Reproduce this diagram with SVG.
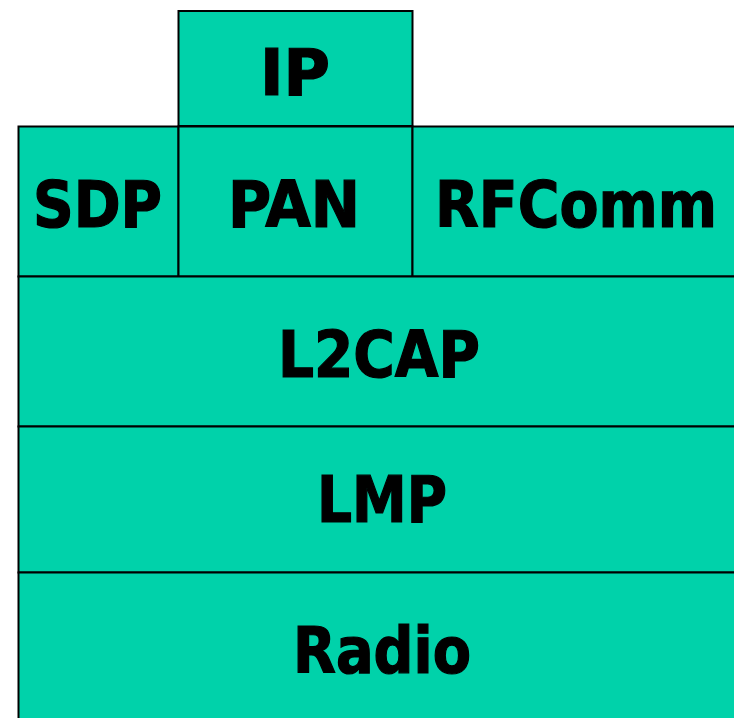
<svg xmlns="http://www.w3.org/2000/svg" width="734" height="718" viewBox="0 0 734 718">
<style>
.box{fill:#00D2AA;stroke:#000;stroke-width:2}
.lbl{font-family:"DejaVu Sans Condensed","DejaVu Sans",sans-serif;font-weight:bold;font-size:64px;fill:#000;stroke:#000;stroke-width:1.2;text-anchor:middle}
</style>
<rect width="734" height="718" fill="#fff"/>
<g id="ip"><rect class="box" x="178.5" y="11" width="234" height="115"/><text class="lbl" x="295" y="95" textLength="70" lengthAdjust="spacingAndGlyphs">IP</text></g>
<g id="sdp"><rect class="box" x="18.5" y="126.5" width="160" height="150"/><text class="lbl" x="97.5" y="227" textLength="129" lengthAdjust="spacingAndGlyphs">SDP</text></g>
<g id="pan"><rect class="box" x="178.5" y="126.5" width="234" height="150"/><text class="lbl" x="294" y="227" textLength="132" lengthAdjust="spacingAndGlyphs">PAN</text></g>
<g id="rfcomm"><rect class="box" x="412.5" y="126.5" width="330" height="150"/><text class="lbl" x="576" y="227" textLength="282" lengthAdjust="spacingAndGlyphs">RFComm</text></g>
<g id="l2cap"><rect class="box" x="18.5" y="276.5" width="724" height="150"/><text class="lbl" x="379" y="377" textLength="202" lengthAdjust="spacingAndGlyphs">L2CAP</text></g>
<g id="lmp"><rect class="box" x="18.5" y="426.5" width="724" height="146"/><text class="lbl" x="382" y="522" textLength="130" lengthAdjust="spacingAndGlyphs">LMP</text></g>
<g id="radio"><rect class="box" x="18.5" y="572.5" width="724" height="160"/><text class="lbl" x="382" y="673" textLength="178" lengthAdjust="spacingAndGlyphs">Radio</text></g>
<g id="connectors"></g>
</svg>
